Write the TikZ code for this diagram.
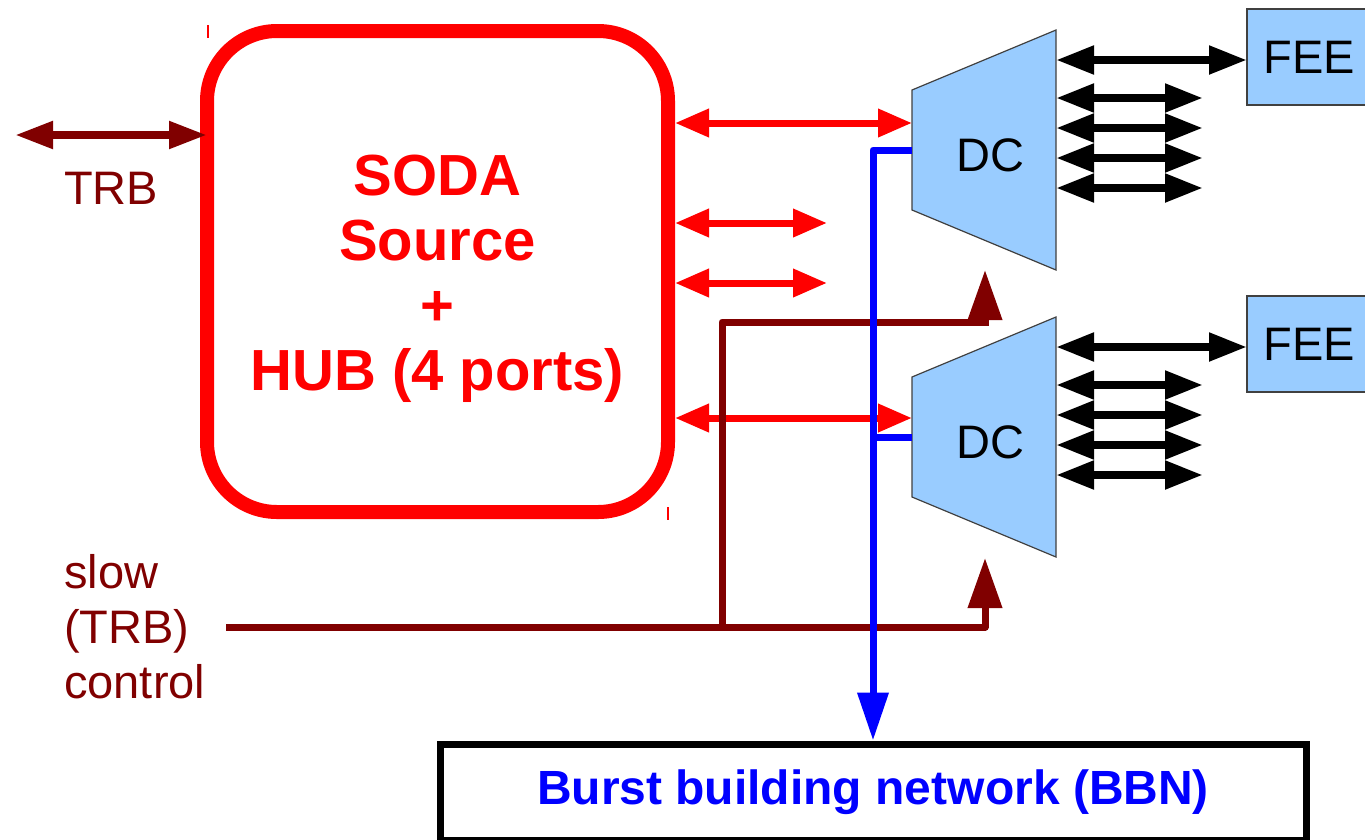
\documentclass[tikz,border=0pt]{standalone}
\usepackage{fontspec}
\setmainfont{Liberation Sans}
\usetikzlibrary{arrows.meta,backgrounds}
\definecolor{darkred}{HTML}{800000}
\definecolor{lightblue}{HTML}{99CCFF}
\tikzset{
  sodabox/.style={draw=red, line width=14pt, rounded corners=70pt, minimum width=461pt,
    minimum height=481pt},
  sodatext/.style={text=red, align=center, font=\bfseries\fontsize{58}{65}\selectfont},
  dcbox/.style={minimum width=144pt, minimum height=120pt, inner sep=0pt, outer sep=0pt},
  dctext/.style={font=\fontsize{47}{56}\selectfont},
  dcfill/.style={fill=lightblue, draw=black!75, line width=1.2pt},
  feebox/.style={fill=lightblue, draw=black!75, line width=1.2pt, minimum width=124pt,
    minimum height=96pt, outer sep=0pt, font=\fontsize{47}{56}\selectfont},
  bbnbox/.style={draw=black, line width=7pt, minimum width=866pt, minimum height=96pt,
    text=blue, font=\bfseries\fontsize{48}{56}\selectfont},
  trbtext/.style={text=darkred, font=\fontsize{47}{55}\selectfont},
  redarrow/.style={{Triangle[length=34pt,width=27pt]}-{Triangle[length=34pt,width=27pt]},
    red, line width=7pt},
  blkarrow/.style={{Triangle[length=38pt,width=27pt]}-{Triangle[length=38pt,width=27pt]},
    black, line width=8pt},
  trbarrow/.style={{Triangle[length=38pt,width=26pt]}-{Triangle[length=38pt,width=26pt]},
    darkred, line width=8pt},
  ctrl/.style={darkred, line width=7pt, line join=round},
  ctrlarrow/.style={ctrl, -{Triangle[length=50pt,width=33pt]}},
  bus/.style={blue, line width=7pt, line join=round},
  busarrow/.style={bus, -{Triangle[length=48pt,width=30pt]}}
}
\begin{document}
\begin{tikzpicture}[x=1pt,y=-1pt]
    \useasboundingbox (0,0) rectangle (1365,839);
    % source and hub
    \node[sodabox] (soda) at (437.5,271.5) {};
    \node[sodatext] (sodalabel) at (437.5,279) {SODA\\Source\\+\\HUB (4 ports)};
    \draw[red, line width=1.5pt] (208,25) -- (208,38);
    \draw[red, line width=1.5pt] (668,507) -- (668,520);
    % data concentrators and front-end
    \node[dcbox] (dc1) at (984,150) {};
    \node[dcbox] (dc2) at (984,437) {};
    \node[dctext] (dc1label) at (990,155) {DC};
    \node[dctext] (dc2label) at (990,442) {DC};
    \node[feebox] (fee1) at (1309,57) {FEE};
    \node[feebox] (fee2) at (1309,344) {FEE};
    \begin{scope}[on background layer]
      \foreach \i in {1,2}
        \filldraw[dcfill] (dc\i.north west) -- ([yshift=60pt]dc\i.north east)
          -- ([yshift=-60pt]dc\i.south east) -- (dc\i.south west) -- cycle;
    \end{scope}
    \foreach \i in {1,2} {
      \draw[blkarrow] ([yshift=90pt]dc\i.east) coordinate (s\i) -- (s\i -| fee\i.west);
      \foreach \d in {52,22,-8,-38}
        \draw[blkarrow] ([yshift=\d pt]dc\i.east) -- ++(147,0);
    }
    % SODA links
    \draw[redarrow] ([yshift=27pt]dc1.west) coordinate (r1) -- (r1 -| soda.east);
    \draw[redarrow] ([yshift=48.5pt]soda.east) -- ++(152,0);
    \draw[redarrow] ([yshift=-11.5pt]soda.east) -- ++(152,0);
    \draw[redarrow] ([yshift=19pt]dc2.west) coordinate (r2) -- (r2 -| soda.east);
    % TRB
    \draw[trbarrow] ([xshift=7pt,yshift=136.5pt]soda.west) -- ++(-192,0);
    \node[trbtext] (trb) at (111,188) {TRB};
    % slow control
    \node[trbtext, align=left, anchor=west, inner sep=0pt] (slow) at (64,627) {slow\\(TRB)\\control};
    \coordinate (c1) at (985,270);
    \coordinate (c2) at (985,558);
    \coordinate (j) at (722,627);
    \draw[ctrlarrow] ([xshift=21pt]slow.east) -| (c2);
    \draw[ctrl] (j) |- ++(263,-305) coordinate (k);
    \draw[ctrlarrow] ([yshift=-3.5pt]k) -- (c1);
    % burst building
    \node[bbnbox] (bbn) at (873,792) {Burst building network (BBN)};
    \draw[busarrow] (dc1.west) -| (bbn.north);
    \draw[bus] (dc2.west) -- (dc2.west -| bbn.north);
\end{tikzpicture}
\end{document}
